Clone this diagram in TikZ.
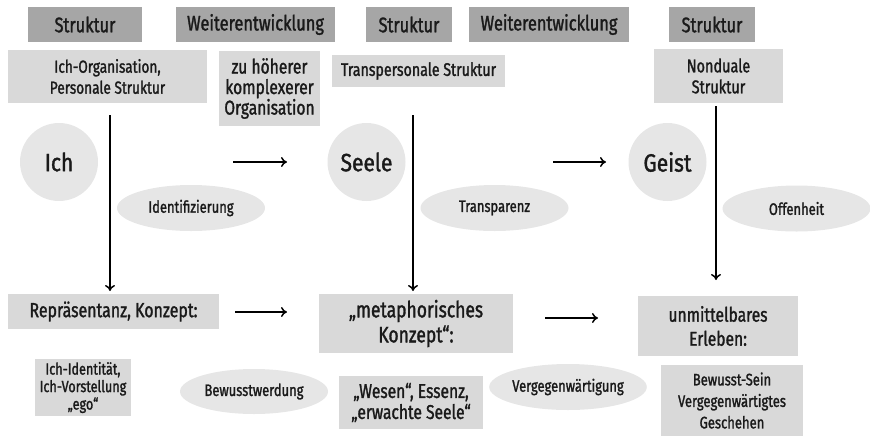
\documentclass[tikz,border=0pt]{standalone}
\usepackage{fontspec}
\setmainfont{Fira Sans}[FakeStretch=0.78,FakeBold=1.4]
\newfontfamily\circfont{Fira Sans}[FakeStretch=0.84,FakeBold=1.4]
\usetikzlibrary{shapes.geometric,arrows.meta}
\definecolor{hdr}{HTML}{A6A6A6}
\definecolor{bx}{HTML}{D9D9D9}
\definecolor{circ}{HTML}{E6E6E6}
\definecolor{ink}{HTML}{1A1A1A}
\tikzset{
  every node/.style={text=ink},
  hbox/.style={fill=hdr, draw=none, inner sep=0pt, minimum height=35pt, align=center, font=\fontsize{21}{22}\selectfont},
  lbox/.style={fill=bx, draw=none, inner sep=0pt, align=center},
  circnode/.style={circle, fill=circ, draw=none, inner sep=0pt, minimum size=78pt, font=\circfont\fontsize{25}{28}\selectfont},
  ell/.style={ellipse, fill=circ, draw=none, inner sep=0pt, minimum width=148pt, minimum height=46pt, font=\fontsize{16.6}{18}\selectfont},
  arr/.style={-{To[length=6pt,width=10pt]}, line width=1.5pt},
}
\begin{document}
\begin{tikzpicture}[x=1pt,y=-1pt]
\useasboundingbox (0,0) rectangle (870,437);
% headers
\node[hbox, minimum width=114pt] (h1) at (85,24.5) {Struktur};
\node[hbox, minimum width=159pt] (h2) at (255.5,24.5) {Weiterentwicklung};
\node[hbox, minimum width=86pt] (h3) at (409,24.5) {Struktur};
\node[hbox, minimum width=160pt] (h4) at (549,24.5) {Weiterentwicklung};
\node[hbox, minimum width=86pt] (h5) at (712,24.5) {Struktur};
% second row
\node[lbox, font=\fontsize{17.5}{21}\selectfont, minimum width=199pt, minimum height=53pt] (ichorg) at (107.5,76.5) {Ich-Organisation,\\Personale Struktur};
\node[lbox, font=\fontsize{20}{20.5}\selectfont, minimum width=101pt, minimum height=75pt] (zuh) at (269.5,88.5) {zu höherer\\komplexerer\\Organisation};
\node[lbox, font=\fontsize{18.2}{20}\selectfont, minimum width=173pt, minimum height=32pt] (transp) at (418.5,71) {Transpersonale Struktur};
\node[lbox, font=\fontsize{18.5}{21}\selectfont, minimum width=129pt, minimum height=54pt] (nond) at (718.5,76) {Nonduale\\Struktur};
% circles
\node[circnode] (ich) at (59,162) {Ich};
\node[circnode] (seele) at (366.5,162) {Seele};
\node[circnode] (geist) at (667.5,162) {Geist};
% ellipses
\node[ell] (ident) at (191,208) {Identifizierung};
\node[ell] (transz) at (494.5,208) {Transparenz};
\node[ell] (offen) at (796.5,208.5) {Offenheit};
% bottom row
\node[lbox, font=\fontsize{20.4}{22}\selectfont, minimum width=211pt, minimum height=35pt] (repr) at (113.5,311.5) {Repräsentanz, Konzept:};
\node[lbox, font=\fontsize{22.4}{25}\selectfont, minimum width=194pt, minimum height=59pt] (meta) at (416,323.5) {„metaphorisches\\Konzept“:};
\node[lbox, font=\fontsize{20}{24}\selectfont, minimum width=160pt, minimum height=60pt] (unm) at (718,326) {unmittelbares\\Erleben:};
% third row
\node[lbox, font=\fontsize{16.2}{17.5}\selectfont, minimum width=96pt, minimum height=57pt] (ichid) at (83,387.5) {Ich-Identität,\\Ich-Vorstellung\\„ego“};
\node[ell, minimum height=45pt] (bewusstw) at (254,391.5) {Bewusstwerdung};
\node[lbox, font=\fontsize{20}{21}\selectfont, minimum width=144pt, minimum height=53pt] (wesen) at (411,402.5) {„Wesen“, Essenz,\\„erwachte Seele“};
\node[ell] (vergeg) at (568,387) {Vergegenwärtigung};
\node[lbox, font=\fontsize{16.7}{21.5}\selectfont, minimum width=142pt, minimum height=71pt] (bsein) at (732,400.5) {Bewusst-Sein\\Vergegenwärtigtes\\Geschehen};
% arrow end points
\coordinate (v1a) at (110,115); \coordinate (v1b) at (110,291);
\coordinate (v2a) at (413,115); \coordinate (v2b) at (413,291);
\coordinate (v3a) at (716,106); \coordinate (v3b) at (716,280);
\coordinate (t1a) at (233,162); \coordinate (t1b) at (287,162);
\coordinate (t2a) at (553,162); \coordinate (t2b) at (606,162);
\coordinate (b1a) at (235,312); \coordinate (b1b) at (287,312);
\coordinate (b2a) at (545,318); \coordinate (b2b) at (598,318);
\draw[arr] (v1a) -- (v1b);
\draw[arr] (v2a) -- (v2b);
\draw[arr] (v3a) -- (v3b);
\draw[arr] (t1a) -- (t1b);
\draw[arr] (t2a) -- (t2b);
\draw[arr] (b1a) -- (b1b);
\draw[arr] (b2a) -- (b2b);
\end{tikzpicture}
\end{document}
